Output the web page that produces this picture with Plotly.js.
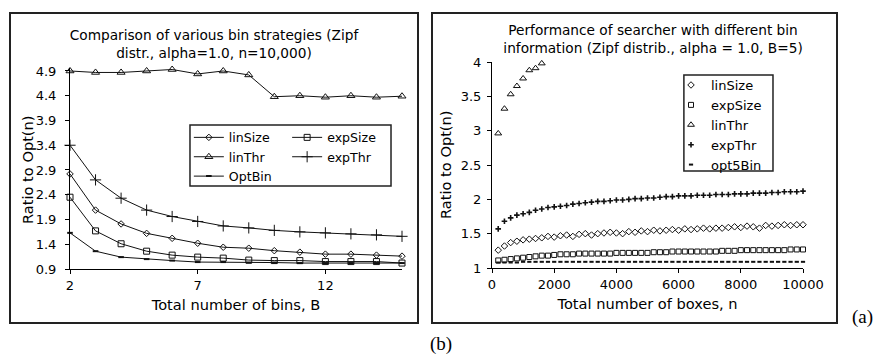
<!DOCTYPE html>
<html><head><meta charset="utf-8">
<script src="https://cdn.plot.ly/plotly-3.0.1.min.js"></script>
<style>
body{margin:0;background:#fff;width:875px;height:358px;position:relative;overflow:hidden;font-family:"DejaVu Sans",sans-serif;}
.box{position:absolute;border:2px solid #222;box-sizing:border-box;background:#fff;}
#boxL{left:9px;top:12px;width:410px;height:312px;}
#boxR{left:431px;top:12px;width:407px;height:312px;}
#chartL{width:406px;height:308px;}
#chartR{width:403px;height:308px;}
.lab{position:absolute;font-family:"Liberation Serif",serif;font-size:19px;color:#000;line-height:22px;}
</style></head><body>
<div class="box" id="boxL"><div id="chartL"></div></div>
<div class="box" id="boxR"><div id="chartR"></div></div>
<div class="lab" style="left:852px;top:306px">(a)</div>
<div class="lab" style="left:430px;top:333px">(b)</div>
<script>
// ---- Left chart (b): ratio vs number of bins ----
const binsB = [2,3,4,5,6,7,8,9,10,11,12,13,14,15];
const leftLinSize = [2.82,2.09,1.81,1.62,1.52,1.42,1.34,1.32,1.27,1.24,1.20,1.20,1.18,1.16];
const leftExpSize = [2.35,1.67,1.41,1.26,1.18,1.14,1.12,1.08,1.07,1.07,1.05,1.05,1.05,1.02];
const leftLinThr  = [4.90,4.87,4.87,4.90,4.93,4.84,4.90,4.82,4.38,4.40,4.37,4.40,4.37,4.39];
const leftExpThr  = [3.40,2.70,2.33,2.09,1.96,1.86,1.77,1.73,1.68,1.65,1.63,1.61,1.59,1.56];
const leftOptBin  = [1.63,1.26,1.14,1.10,1.07,1.04,1.04,1.03,1.03,1.02,1.02,1.02,1.02,1.02];
const leftYTicks  = [0.9,1.4,1.9,2.4,2.9,3.4,3.9,4.4,4.9];

// ---- Right chart (a): ratio vs number of boxes ----
const boxesN = [200,400,600,800,1000,1200,1400,1600,1800,2000,
  2200,2400,2600,2800,3000,3200,3400,3600,3800,4000,
  4200,4400,4600,4800,5000,5200,5400,5600,5800,6000,
  6200,6400,6600,6800,7000,7200,7400,7600,7800,8000,
  8200,8400,8600,8800,9000,9200,9400,9600,9800,10000];
const rightLinSize = [1.26,1.32,1.37,1.39,1.41,1.42,1.43,1.44,1.46,1.45,
  1.47,1.48,1.46,1.49,1.50,1.48,1.50,1.51,1.52,1.51,
  1.50,1.53,1.52,1.54,1.53,1.55,1.54,1.55,1.56,1.55,
  1.57,1.56,1.57,1.58,1.57,1.58,1.58,1.59,1.60,1.59,
  1.61,1.60,1.58,1.62,1.61,1.62,1.63,1.62,1.63,1.63];
const rightExpSize = [1.11,1.12,1.13,1.14,1.15,1.16,1.17,1.18,1.18,1.19,
  1.20,1.20,1.20,1.21,1.21,1.21,1.21,1.21,1.21,1.22,
  1.22,1.22,1.22,1.22,1.22,1.23,1.23,1.23,1.24,1.24,
  1.24,1.24,1.24,1.24,1.24,1.24,1.25,1.25,1.25,1.26,
  1.26,1.26,1.26,1.26,1.26,1.26,1.26,1.27,1.27,1.27];
const linThrN = [200,400,600,800,1000,1200,1400,1600];
const rightLinThr = [2.96,3.32,3.53,3.65,3.76,3.88,3.91,3.98];
const rightExpThr = [1.57,1.68,1.73,1.77,1.79,1.81,1.84,1.86,1.88,1.89,
  1.90,1.91,1.93,1.94,1.95,1.96,1.97,1.97,1.98,1.99,
  1.99,2.00,2.01,2.01,2.02,2.02,2.03,2.04,2.04,2.05,
  2.05,2.05,2.06,2.06,2.06,2.07,2.07,2.07,2.08,2.08,
  2.08,2.09,2.09,2.09,2.10,2.10,2.11,2.11,2.11,2.12];
const rightOpt5Bin = [1.08,1.08,1.08,1.08,1.09,1.09,1.09,1.09,1.09,1.09,
  1.09,1.09,1.09,1.09,1.09,1.09,1.09,1.09,1.09,1.09,
  1.09,1.09,1.09,1.09,1.09,1.09,1.09,1.09,1.09,1.09,
  1.09,1.09,1.09,1.09,1.09,1.09,1.09,1.09,1.09,1.09,
  1.09,1.09,1.09,1.09,1.09,1.09,1.09,1.09,1.09,1.09];

const FONT = '"DejaVu Sans", Verdana, sans-serif';
const ink = '#111';

function lineTrace(name, y, symbol, size, legend, mlw){
  return {x: binsB, y: y, name: name, type:'scatter', mode:'lines+markers', legend: legend,
    cliponaxis:false,
    line:{color:ink, width:1},
    marker:{symbol:symbol, size:size, color:ink, line:{color:ink, width:mlw||1}}};
}
const tracesL = [
  lineTrace('linSize', leftLinSize, 'diamond-open', 5, 'legend'),
  lineTrace('expSize', leftExpSize, 'square-open', 6, 'legend2'),
  lineTrace('linThr', leftLinThr, 'triangle-up-open', 7, 'legend'),
  lineTrace('expThr', leftExpThr, 'cross-thin-open', 8, 'legend2'),
  lineTrace('OptBin', leftOptBin, 'line-ew-open', 4, 'legend', 2)
];
const axBase = {showline:true, linecolor:'#000', linewidth:1, ticks:'outside', ticklen:4,
  tickcolor:'#000', showgrid:false, zeroline:false, automargin:false,
  tickfont:{family:FONT, size:13, color:'#000'}};
const legBase = {font:{family:FONT, size:12.6, color:'#000'}, bgcolor:'rgba(0,0,0,0)',
  borderwidth:0, xanchor:'left', yanchor:'top', tracegroupgap:0};
const yTitleFont = {family:FONT, size:14.6, color:'#000'};
const layoutL = {
  width:406, height:308, margin:{l:59, r:15, t:54, b:53},
  paper_bgcolor:'#fff', plot_bgcolor:'#fff', font:{family:FONT, color:'#000'},
  title:{text:'Comparison of various bin strategies (Zipf<br>distr., alpha=1.0, n=10,000)',
    x:0.5, xref:'container', xanchor:'center', y:0.916, yref:'container', yanchor:'top',
    font:{family:FONT, size:13.7, color:'#000'}},
  xaxis:Object.assign({}, axBase, {range:[2,15], tick0:2, dtick:5,
    title:{text:'Total number of bins, B', font:{family:FONT, size:14.6, color:'#000'}, standoff:8}}),
  yaxis:Object.assign({}, axBase, {range:[0.9,4.96], tickvals:leftYTicks, tickformat:'.1f', ticklabelstandoff:6}),
  annotations:[{text:'Ratio to Opt(n)', textangle:-90, xref:'paper', yref:'paper', x:0, y:0.4925,
    xanchor:'center', yanchor:'middle', xshift:-43, showarrow:false, font:yTitleFont}],
  showlegend:true,
  legend:Object.assign({}, legBase, {x:0.358, y:0.728}),
  legend2:Object.assign({}, legBase, {x:0.654, y:0.728}),
  shapes:[{type:'rect', xref:'paper', yref:'paper', x0:0.3614, x1:0.9669, y0:0.4129, y1:0.7164,
    line:{color:'#222', width:1.5}}]
};
Plotly.newPlot('chartL', tracesL, layoutL, {staticPlot:true, displayModeBar:false});

function ptTrace(name, x, y, symbol, size, mlw){
  return {x:x, y:y, name:name, type:'scatter', mode:'markers', cliponaxis:false,
    marker:{symbol:symbol, size:size, color:ink, line:{color:ink, width:mlw||1}}};
}
const tracesR = [
  ptTrace('linSize', boxesN, rightLinSize, 'diamond-open', 5),
  ptTrace('expSize', boxesN, rightExpSize, 'square-open', 5),
  ptTrace('linThr', linThrN, rightLinThr, 'triangle-up-open', 6),
  ptTrace('expThr', boxesN, rightExpThr, 'cross-thin-open', 4, 1.6),
  ptTrace('opt5Bin', boxesN, rightOpt5Bin, 'line-ew-open', 3, 2)
];
const layoutR = {
  width:403, height:308, margin:{l:59, r:33, t:48, b:54},
  paper_bgcolor:'#fff', plot_bgcolor:'#fff', font:{family:FONT, color:'#000'},
  title:{text:'Performance of searcher with different bin<br>information (Zipf distrib., alpha = 1.0, B=5)',
    x:0.546, xref:'container', xanchor:'center', y:0.931, yref:'container', yanchor:'top',
    font:{family:FONT, size:13.7, color:'#000'}},
  xaxis:Object.assign({}, axBase, {range:[0,10000], tick0:0, dtick:2000, tickformat:'d',
    title:{text:'Total number of boxes, n', font:{family:FONT, size:14.6, color:'#000'}, standoff:8}}),
  yaxis:Object.assign({}, axBase, {range:[1,4], tick0:1, dtick:0.5, ticklabelstandoff:3}),
  annotations:[{text:'Ratio to Opt(n)', textangle:-90, xref:'paper', yref:'paper', x:0, y:0.5,
    xanchor:'center', yanchor:'middle', xshift:-47, showarrow:false, font:yTitleFont}],
  showlegend:true,
  legend:{font:{family:FONT, size:13, color:'#000'}, bgcolor:'rgba(0,0,0,0)', borderwidth:0,
    xanchor:'left', yanchor:'top', x:0.5756, y:0.961, tracegroupgap:0},
  shapes:[{type:'rect', xref:'paper', yref:'paper', x0:0.617, x1:0.9035, y0:0.471, y1:0.937,
    line:{color:'#222', width:1.5}}]
};
Plotly.newPlot('chartR', tracesR, layoutR, {staticPlot:true, displayModeBar:false});
</script>
</body></html>
